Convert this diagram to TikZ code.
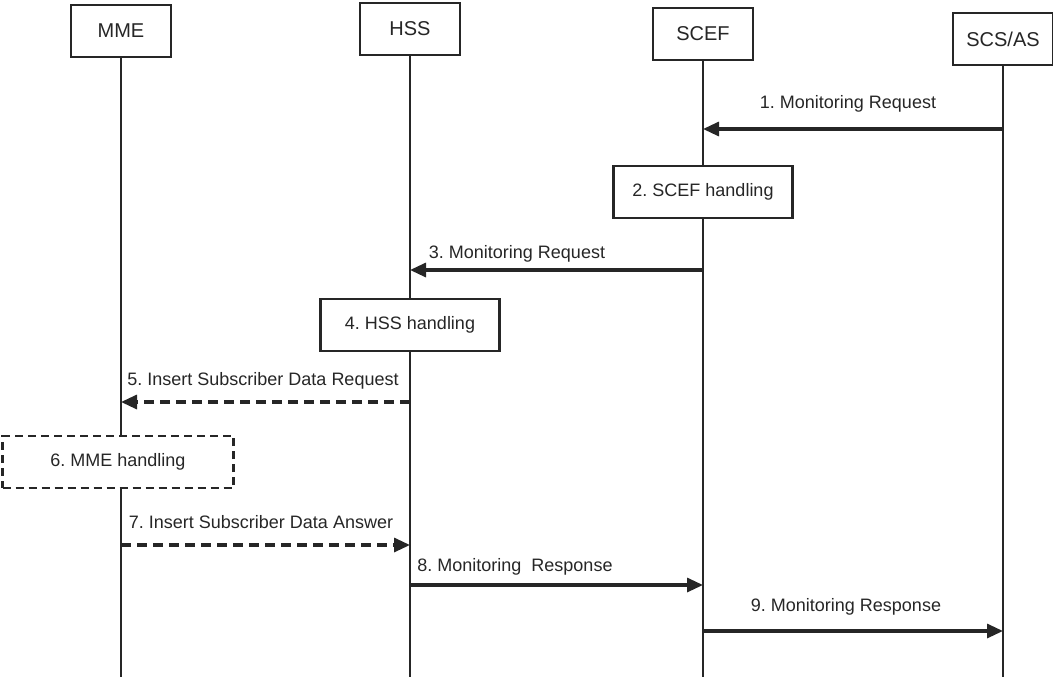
\documentclass[tikz,border=0pt]{standalone}
\usepackage{fontspec}
\setmainfont{Liberation Sans}
\frenchspacing
\usetikzlibrary{arrows.meta}
\definecolor{ink}{HTML}{262626}
\tikzstyle{actor} = [rectangle, minimum width=100pt, minimum height=52pt, draw=ink, line width=2.2pt, fill=white, text=ink, font=\fontsize{20}{22}\selectfont]
\tikzstyle{handling} = [rectangle, minimum width=179pt, minimum height=52pt, draw=ink, line width=2.2pt, fill=white, text=ink, font=\fontsize{18}{20}\selectfont]
\tikzstyle{dashhandling} = [handling, dash pattern=on 8pt off 5pt, minimum width=231pt]
\tikzstyle{lifeline} = [ink, line width=2.2pt]
\tikzstyle{arrow} = [ink, line width=3.2pt, -{Triangle[length=16pt,width=14pt]}]
\tikzstyle{dasharrow} = [arrow, dash pattern=on 10pt off 6pt]
\tikzstyle{msg} = [text=ink, font=\fontsize{18}{20}\selectfont, inner sep=0]

\begin{document}
\begin{tikzpicture}[x=1pt,y=-1pt]
\useasboundingbox (0,0) rectangle (1053,681);
% entities
\node[actor] (mme) at (121,31) {MME};
\node[actor] (hss) at (410,29) {HSS};
\node[actor] (scef) at (703,34) {SCEF};
\node[actor] (scs) at (1003,39) {SCS/AS};
\foreach \a in {mme,hss,scef,scs}
  \draw[lifeline] (\a.south) -- (\a.south |- 0,677);
% steps 1-2
\draw[arrow] (scs.south |- 0,129) -- (scef.south |- 0,129);
\node[msg] (m1) at (848,104) {1. Monitoring Request};
\node[handling] (h2) at (703,192) {2. SCEF handling};
% steps 3-4
\draw[arrow] (scef.south |- 0,270) -- (hss.south |- 0,270);
\node[msg] (m3) at (517,254) {3. Monitoring Request};
\node[handling] (h4) at (410,325) {4. HSS handling};
% steps 5-7
\draw[dasharrow] (hss.south |- 0,402) -- (mme.south |- 0,402);
\node[msg] (m5) at (263,381) {5. Insert Subscriber Data Request};
\node[dashhandling] (h6) at (118,462) {6. MME handling};
\draw[dasharrow] (mme.south |- 0,545) -- (hss.south |- 0,545);
\node[msg] (m7) at (261,522) {7. Insert Subscriber Data Answer};
% steps 8-9
\draw[arrow] (hss.south |- 0,585) -- (scef.south |- 0,585);
\node[msg] (m8) at (515,567) {8. Monitoring\ \ Response};
\draw[arrow] (scef.south |- 0,631) -- (scs.south |- 0,631);
\node[msg] (m9) at (846,607) {9. Monitoring Response};
\end{tikzpicture}
\end{document}
